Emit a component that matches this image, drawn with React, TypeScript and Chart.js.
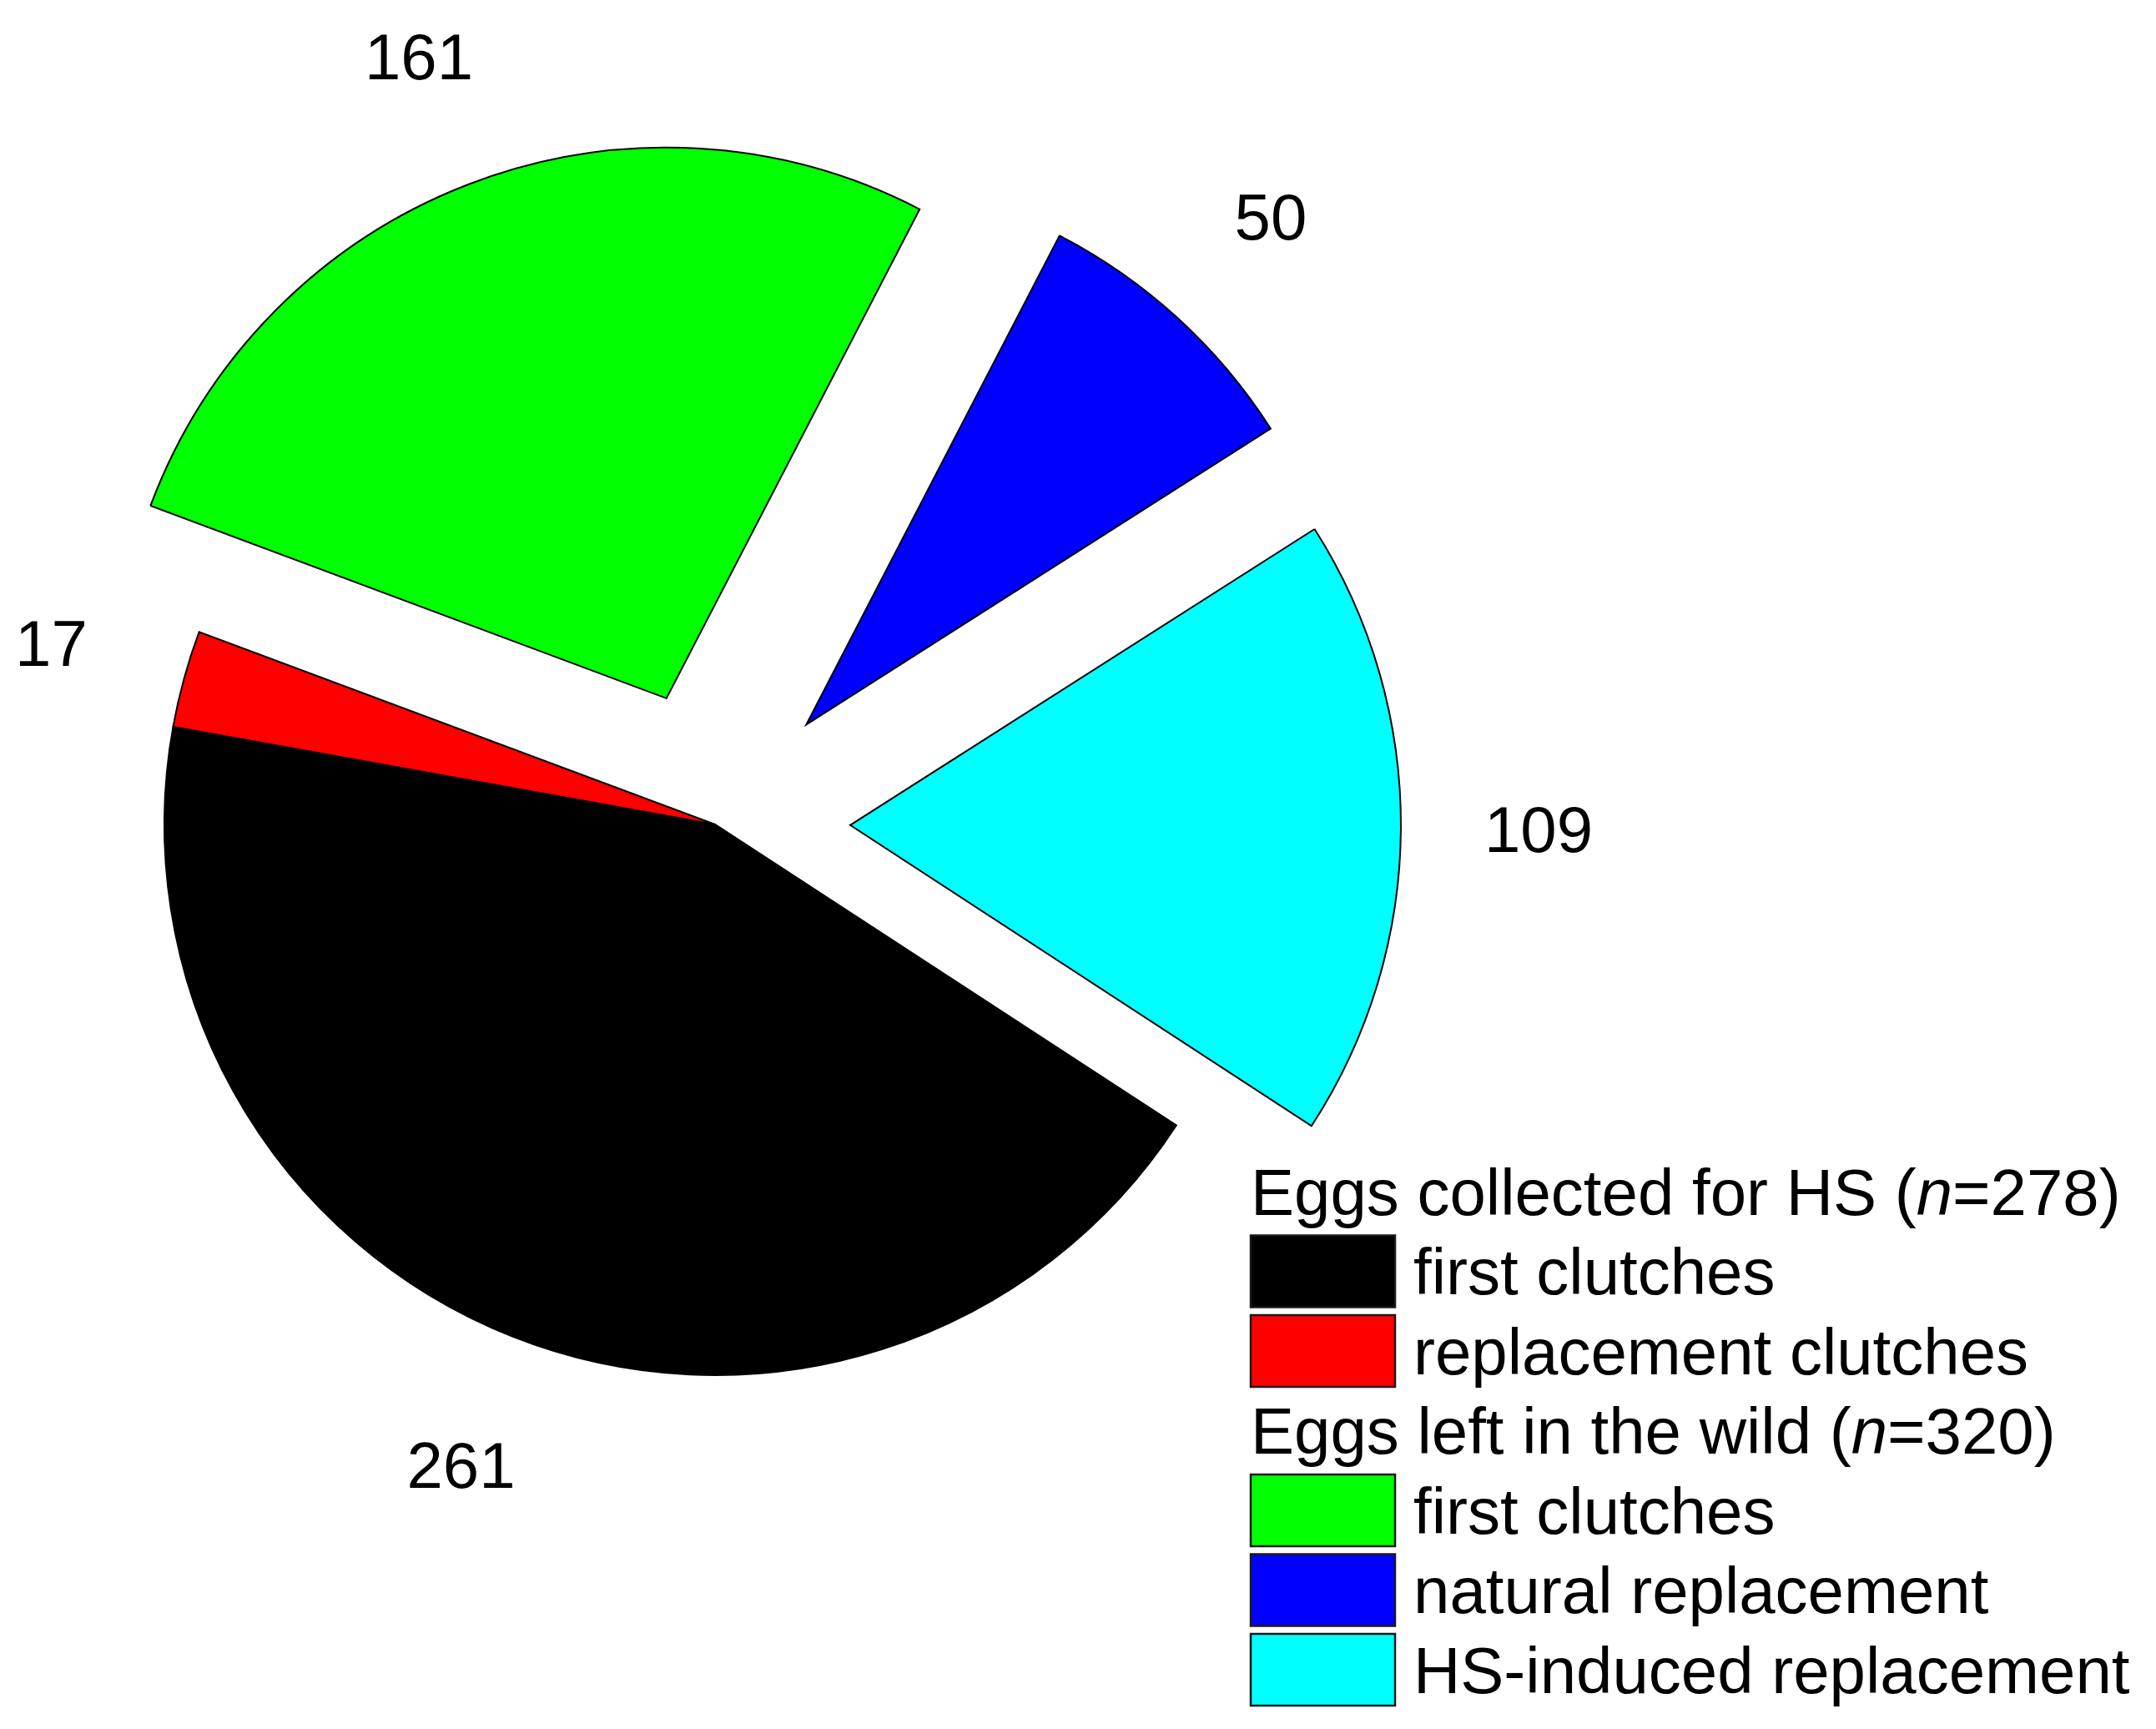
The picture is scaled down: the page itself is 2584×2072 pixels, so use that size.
import React, { useEffect, useRef } from 'react';
import { Chart, registerables } from 'chart.js';

Chart.register(...registerables);

// ---- data ----
const categories = [
  'Eggs collected for HS – first clutches',
  'Eggs collected for HS – replacement clutches',
  'Eggs left in the wild – first clutches',
  'Eggs left in the wild – natural replacement',
  'Eggs left in the wild – HS-induced replacement',
];
const legendLabels = [
  'first clutches',
  'replacement clutches',
  'first clutches',
  'natural replacement',
  'HS-induced replacement',
];
const values = [261, 17, 161, 50, 109];
const exploded = [false, false, true, true, true];
const groupNames = ['Eggs collected for HS', 'Eggs left in the wild'];
const groupOf = [0, 0, 1, 1, 1];

// ---- styles ----
const COLORS = ['#000000', '#FF0000', '#00FF00', '#0000FF', '#00FFFF'];
const W = 2584;
const H = 2072;
const CX = 857;
const CY = 988;
const RADIUS = 660;
const EXPLODE_DIST = 162;
const LABEL_FACTOR = 1.25;
const FONT_FAMILY = '"Liberation Sans", Arial, Helvetica, sans-serif';
const LABEL_FS = 78;
const LEG_FS = 78;
const LEG_X = 1499;
const LEG_TOP_CENTER = 1428;
const LEG_PITCH = 95.5;
const BOX_W = 173;
const BOX_H = 86;
const LEG_TEXT_X = 1694;

const offsetFor = (arc: any, i: number) => {
  const mid = (arc.startAngle + arc.endAngle) / 2;
  const d = exploded[i] ? EXPLODE_DIST : 0;
  return { dx: Math.cos(mid) * d, dy: Math.sin(mid) * d, mid };
};

const explodePlugin = {
  id: 'explodeDraw',
  beforeDatasetDraw(chart: any, args: any) {
    const ctx = chart.ctx;
    const meta = args.meta;
    meta.data.forEach((arc: any, i: number) => {
      const { dx, dy } = offsetFor(arc, i);
      ctx.save();
      ctx.translate(dx, dy);
      arc.draw(ctx, chart.chartArea);
      ctx.restore();
    });
    return false;
  },
  afterDatasetsDraw(chart: any) {
    const ctx = chart.ctx;
    const meta = chart.getDatasetMeta(0);
    ctx.save();
    ctx.fillStyle = '#000';
    ctx.font = `${LABEL_FS}px ${FONT_FAMILY}`;
    ctx.textAlign = 'center';
    ctx.textBaseline = 'alphabetic';
    meta.data.forEach((arc: any, i: number) => {
      const { dx, dy, mid } = offsetFor(arc, i);
      const r = arc.outerRadius * LABEL_FACTOR;
      const x = arc.x + dx + Math.cos(mid) * r;
      const y = arc.y + dy + Math.sin(mid) * r;
      ctx.fillText(String(values[i]), x, y + 0.358 * LABEL_FS);
    });
    ctx.restore();
  },
};

const legendPlugin = {
  id: 'groupLegend',
  afterDraw(chart: any) {
    const ctx = chart.ctx;
    ctx.save();
    ctx.fillStyle = '#000';
    ctx.textBaseline = 'alphabetic';
    ctx.textAlign = 'left';
    const normal = `${LEG_FS}px ${FONT_FAMILY}`;
    const italic = `italic ${LEG_FS}px ${FONT_FAMILY}`;
    let row = 0;
    groupNames.forEach((g, gi) => {
      const n = values.reduce((s, v, i) => (groupOf[i] === gi ? s + v : s), 0);
      const cy = LEG_TOP_CENTER + row * LEG_PITCH;
      const by = cy + 0.358 * LEG_FS;
      let x = LEG_X;
      ctx.font = normal;
      ctx.fillStyle = '#000';
      const a = `${g} (`;
      ctx.fillText(a, x, by);
      x += ctx.measureText(a).width;
      ctx.font = italic;
      ctx.fillText('n', x, by);
      x += ctx.measureText('n').width;
      ctx.font = normal;
      ctx.fillText(`=${n})`, x, by);
      row++;
      values.forEach((_, i) => {
        if (groupOf[i] !== gi) return;
        const rc = LEG_TOP_CENTER + row * LEG_PITCH;
        ctx.fillStyle = COLORS[i];
        ctx.fillRect(LEG_X, rc - BOX_H / 2, BOX_W, BOX_H);
        ctx.lineWidth = 2.5;
        ctx.strokeStyle = '#1a1a1a';
        ctx.strokeRect(LEG_X, rc - BOX_H / 2, BOX_W, BOX_H);
        ctx.fillStyle = '#000';
        ctx.font = normal;
        ctx.fillText(legendLabels[i], LEG_TEXT_X, rc + 0.358 * LEG_FS);
        row++;
      });
    });
    ctx.restore();
  },
};

export default function App() {
  const ref = useRef<HTMLCanvasElement | null>(null);

  useEffect(() => {
    if (!ref.current) return;
    const chart = new Chart(ref.current, {
      type: 'pie',
      data: {
        labels: categories,
        datasets: [
          {
            data: values,
            backgroundColor: COLORS,
            borderColor: '#000000',
            borderWidth: 2,
            borderJoinStyle: 'miter',
          } as any,
        ],
      },
      options: {
        responsive: false,
        devicePixelRatio: 1,
        animation: false,
        rotation: 123.1,
        radius: RADIUS,
        layout: {
          padding: {
            left: 0,
            top: 0,
            right: W - 2 * CX,
            bottom: H - 2 * CY,
          },
        },
        plugins: {
          legend: { display: false },
          tooltip: { enabled: false },
        },
        events: [],
      } as any,
      plugins: [explodePlugin, legendPlugin],
    });
    return () => chart.destroy();
  }, []);

  return (
    <div style={{ position: 'absolute', left: 0, top: 0, width: W, height: H, background: '#fff' }}>
      <canvas ref={ref} width={W} height={H} style={{ display: 'block', width: W, height: H }} />
    </div>
  );
}
